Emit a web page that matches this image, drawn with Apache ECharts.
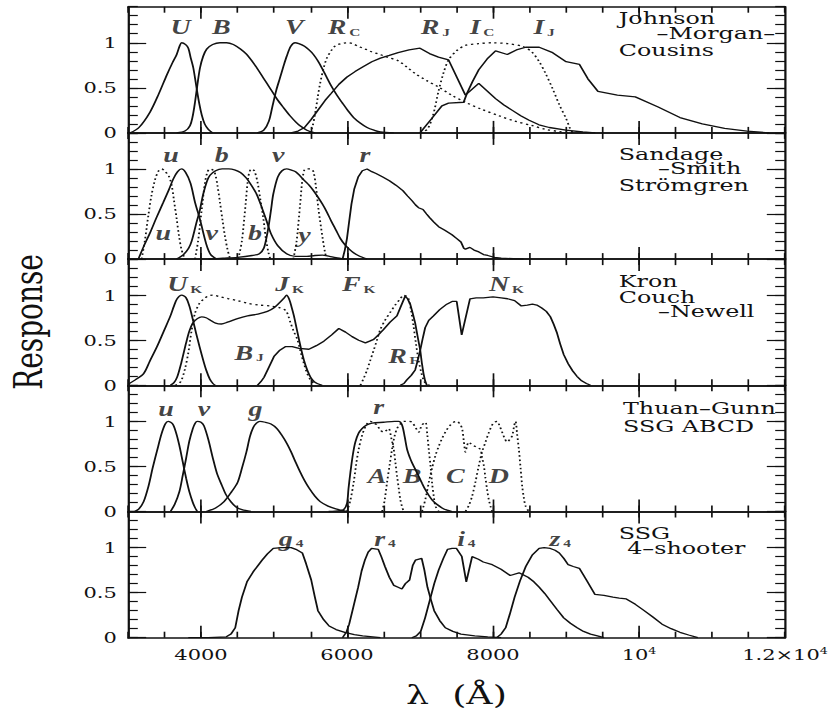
<!DOCTYPE html>
<html>
<head>
<meta charset="utf-8">
<script src="https://cdn.jsdelivr.net/npm/echarts@6.0.0/dist/echarts.min.js"></script>
<style>
html,body{margin:0;padding:0;background:#fff;overflow:hidden}
/* 原图是横向拉伸的扫描件, 整体横向放大 1.4 倍 */
#main{width:600px;height:714px;transform:scaleX(1.4);transform-origin:0 0}
</style>
</head>
<body>
<div id="main"></div>
<script>
//坐标轴刻度与标签
var xMajorTicks = [4000, 6000, 8000, 10000];
var xLabelValues = [4000, 6000, 8000, 10000, 12000];
var xLabelText = ['4000', '6000', '8000', '10^4', '1.2×10^4'];
var yMajorTicks = [0, 0.5, 1];

//Johnson-Morgan-Cousins
var jU = [[3030,0],[3150,0.06],[3301,0.23],[3420,0.43],[3530,0.64],[3610,0.78],[3667,0.87],[3710,0.97],[3735,1.0],[3790,0.98],[3826,0.94],[3860,0.83],[3895,0.72],[3941,0.49],[3975,0.33],[4010,0.2],[4050,0.1],[4100,0.04],[4160,0]];
var jB = [[3667,0],[3780,0.02],[3849,0.08],[3885,0.18],[3918,0.34],[3950,0.53],[3986,0.72],[4030,0.85],[4078,0.93],[4160,0.98],[4260,1.0],[4350,1.0],[4443,0.98],[4540,0.93],[4626,0.87],[4740,0.75],[4854,0.61],[4950,0.49],[5037,0.38],[5130,0.28],[5219,0.19],[5300,0.12],[5356,0.08],[5450,0.03],[5560,0]];
var jV = [[4770,0],[4860,0.03],[4930,0.13],[4980,0.3],[5030,0.47],[5082,0.61],[5130,0.74],[5174,0.85],[5230,0.96],[5288,1.0],[5340,0.99],[5418,0.96],[5480,0.92],[5540,0.87],[5600,0.8],[5663,0.71],[5720,0.62],[5785,0.52],[5860,0.42],[5938,0.33],[6010,0.25],[6091,0.17],[6180,0.11],[6275,0.06],[6370,0.03],[6458,0.01],[6640,0]];
var jRc = [[5479,0],[5520,0.05],[5560,0.2],[5600,0.4],[5632,0.55],[5680,0.72],[5724,0.83],[5790,0.92],[5847,0.97],[5920,0.99],[5999,1.0],[6080,0.99],[6153,0.96],[6250,0.93],[6336,0.9],[6450,0.87],[6550,0.84],[6700,0.8],[6820,0.73],[6931,0.66],[7090,0.58],[7253,0.51],[7430,0.42],[7621,0.34],[7850,0.26],[8081,0.19],[8300,0.13],[8541,0.08],[8720,0.04],[8909,0.015],[9093,0]];
var jRj = [[5234,0],[5330,0.02],[5418,0.06],[5510,0.15],[5600,0.25],[5700,0.36],[5785,0.44],[5890,0.54],[6000,0.62],[6110,0.68],[6214,0.73],[6340,0.79],[6458,0.83],[6580,0.86],[6700,0.89],[6850,0.92],[7000,0.94],[7130,0.88],[7253,0.84],[7391,0.81],[7621,0.42],[7805,0.55],[8035,0.38],[8150,0.31],[8265,0.25],[8380,0.19],[8495,0.14],[8630,0.09],[8771,0.06],[9000,0.03],[9231,0.01],[9400,0]];
var jIc = [[7000,0],[7100,0.04],[7180,0.2],[7253,0.46],[7320,0.66],[7391,0.81],[7500,0.91],[7621,0.97],[7800,0.99],[7989,1.0],[8200,0.99],[8403,0.96],[8530,0.9],[8633,0.79],[8720,0.66],[8817,0.49],[8910,0.31],[9001,0.16],[9050,0.06],[9093,0]];
var jIj = [[7000,0],[7161,0.16],[7300,0.3],[7391,0.33],[7598,0.34],[7644,0.44],[7720,0.57],[7805,0.7],[7920,0.82],[8035,0.91],[8196,0.87],[8320,0.92],[8449,0.95],[8633,0.95],[8817,0.89],[9001,0.79],[9185,0.76],[9300,0.6],[9438,0.46],[9704,0.42],[9949,0.4],[10255,0.29],[10561,0.17],[10867,0.1],[11173,0.05],[11480,0.02],[11785,0]];

//Sandage-Smith (实线) / Strömgren (虚线)
var sU = [[3142,0],[3220,0.15],[3301,0.29],[3390,0.46],[3484,0.63],[3560,0.77],[3621,0.89],[3680,0.97],[3735,1.0],[3790,0.96],[3857,0.84],[3918,0.63],[3986,0.44],[4071,0.17],[4133,0.05],[4215,0]];
var sB = [[3666,0],[3760,0.05],[3830,0.12],[3872,0.2],[3930,0.38],[3986,0.55],[4030,0.72],[4080,0.86],[4123,0.93],[4200,0.98],[4290,1.0],[4380,1.0],[4460,0.99],[4540,0.96],[4620,0.9],[4690,0.82],[4762,0.72],[4830,0.58],[4900,0.42],[4960,0.28],[5051,0.15],[5173,0.06],[5296,0.03],[5450,0.03],[5560,0.04],[5663,0.045],[5760,0.03],[5847,0.015],[5969,0]];
var sV = [[4100,0],[4300,0.01],[4500,0.02],[4700,0.04],[4800,0.06],[4860,0.12],[4900,0.25],[4929,0.38],[4960,0.55],[4990,0.72],[5051,0.91],[5110,0.98],[5173,1.0],[5230,0.99],[5296,0.97],[5360,0.92],[5418,0.87],[5480,0.82],[5540,0.76],[5600,0.69],[5663,0.61],[5725,0.52],[5785,0.42],[5850,0.32],[5908,0.23],[5970,0.16],[6030,0.11],[6090,0.07],[6153,0.04],[6275,0]];
var sR = [[5939,0],[5970,0.1],[6000,0.23],[6030,0.42],[6061,0.61],[6100,0.78],[6153,0.91],[6210,0.98],[6275,1.0],[6340,0.97],[6398,0.95],[6490,0.91],[6581,0.87],[6670,0.82],[6765,0.76],[6830,0.7],[6888,0.65],[6940,0.6],[6980,0.57],[7041,0.55],[7090,0.5],[7132,0.46],[7190,0.41],[7255,0.36],[7340,0.32],[7438,0.27],[7500,0.23],[7561,0.19],[7600,0.12],[7622,0.11],[7683,0.13],[7740,0.1],[7806,0.08],[7870,0.05],[7928,0.04],[8020,0.02],[8112,0.01],[8418,0]];
var stU = [[3187,0],[3230,0.2],[3278,0.48],[3320,0.7],[3370,0.88],[3420,0.98],[3461,1.0],[3510,0.97],[3560,0.92],[3598,0.82],[3630,0.65],[3666,0.45],[3700,0.25],[3735,0.1],[3780,0]];
var stV = [[3918,0],[3960,0.2],[4010,0.55],[4055,0.85],[4090,0.97],[4123,1.0],[4160,0.99],[4192,0.95],[4225,0.82],[4260,0.63],[4295,0.43],[4329,0.25],[4365,0.1],[4400,0]];
var stB = [[4510,0],[4560,0.2],[4610,0.6],[4650,0.92],[4690,1.0],[4730,0.98],[4775,0.85],[4815,0.65],[4854,0.45],[4890,0.22],[4925,0.07],[4950,0]];
var stY = [[5265,0],[5310,0.2],[5357,0.6],[5390,0.88],[5430,1.0],[5500,1.0],[5540,0.97],[5575,0.8],[5610,0.55],[5663,0.25],[5700,0.07],[5724,0]];

//Kron / Couch-Newell
var kU = [[3000,0.01],[3100,0.06],[3214,0.13],[3300,0.27],[3398,0.43],[3490,0.6],[3581,0.77],[3630,0.88],[3673,0.96],[3735,1.0],[3796,0.97],[3840,0.88],[3888,0.73],[3935,0.57],[3980,0.43],[4030,0.28],[4071,0.17],[4120,0.07],[4163,0.02],[4194,0]];
var kJ = [[3581,0],[3630,0.03],[3673,0.09],[3730,0.25],[3796,0.47],[3840,0.6],[3888,0.69],[3950,0.74],[4010,0.76],[4070,0.75],[4133,0.72],[4200,0.69],[4280,0.68],[4363,0.7],[4500,0.74],[4637,0.77],[4780,0.79],[4910,0.82],[5000,0.86],[5080,0.92],[5140,0.97],[5173,1.0],[5210,0.95],[5240,0.87],[5273,0.77],[5310,0.63],[5342,0.51],[5375,0.39],[5410,0.28],[5455,0.17],[5501,0.09],[5550,0.04],[5592,0.02],[5660,0]];
var kBj = [[3643,0],[3700,0.02],[3735,0.06],[3780,0.18],[3826,0.36],[3870,0.6],[3918,0.8],[3980,0.91],[4041,0.96],[4100,0.99],[4163,1.0],[4270,0.98],[4378,0.96],[4500,0.94],[4637,0.91],[4800,0.89],[4955,0.88],[5080,0.86],[5160,0.83],[5200,0.76],[5228,0.69],[5270,0.6],[5319,0.51],[5365,0.37],[5410,0.24],[5455,0.13],[5501,0.06],[5570,0]];
var kF = [[4773,0],[4820,0.04],[4864,0.09],[4930,0.2],[5000,0.32],[5080,0.39],[5160,0.43],[5250,0.43],[5342,0.41],[5478,0.4],[5580,0.44],[5683,0.49],[5790,0.56],[5888,0.63],[5980,0.59],[6070,0.54],[6160,0.5],[6252,0.47],[6310,0.49],[6366,0.51],[6430,0.56],[6502,0.62],[6590,0.7],[6684,0.77],[6740,0.88],[6798,0.99],[6830,0.96],[6866,0.9],[6900,0.8],[6934,0.69],[6970,0.53],[7003,0.39],[7025,0.25],[7048,0.13],[7070,0.05],[7094,0]];
var kRf = [[6184,0],[6230,0.08],[6275,0.17],[6320,0.28],[6366,0.39],[6410,0.5],[6457,0.62],[6520,0.72],[6593,0.81],[6660,0.89],[6730,0.96],[6775,1.0],[6810,0.99],[6843,0.96],[6880,0.82],[6911,0.66],[6945,0.46],[6980,0.28],[7015,0.15],[7048,0.06],[7090,0.01],[7139,0]];
var kN = [[6730,0],[6780,0.02],[6820,0.06],[6880,0.11],[6934,0.17],[6970,0.28],[7003,0.39],[7040,0.53],[7071,0.64],[7120,0.72],[7185,0.77],[7270,0.84],[7367,0.9],[7440,0.93],[7503,0.93],[7571,0.56],[7685,0.96],[7770,0.97],[7867,0.97],[8000,0.98],[8112,0.97],[8200,0.96],[8296,0.94],[8388,0.88],[8470,0.89],[8540,0.9],[8600,0.89],[8663,0.86],[8730,0.82],[8786,0.76],[8830,0.68],[8877,0.58],[8920,0.46],[8969,0.34],[9030,0.24],[9091,0.16],[9150,0.1],[9214,0.05],[9280,0.02],[9336,0]];

//Thuan-Gunn (实线) / SSG ABCD (虚线)
var tU = [[3092,0],[3150,0.03],[3214,0.11],[3280,0.28],[3337,0.48],[3400,0.68],[3459,0.86],[3510,0.97],[3551,1.0],[3612,0.97],[3660,0.87],[3704,0.73],[3750,0.55],[3796,0.37],[3840,0.22],[3888,0.1],[3920,0.04],[3949,0]];
var tV = [[3582,0],[3640,0.08],[3704,0.22],[3750,0.4],[3796,0.59],[3840,0.78],[3888,0.92],[3920,0.98],[3949,1.0],[4000,0.99],[4041,0.95],[4100,0.8],[4163,0.59],[4220,0.42],[4286,0.29],[4340,0.19],[4408,0.11],[4480,0.05],[4561,0.02],[4684,0]];
var tG = [[4071,0],[4200,0.04],[4316,0.11],[4420,0.22],[4500,0.32],[4561,0.48],[4622,0.66],[4670,0.83],[4714,0.93],[4760,0.98],[4806,1.0],[4880,0.99],[4959,0.97],[5040,0.92],[5112,0.84],[5180,0.75],[5235,0.66],[5300,0.54],[5357,0.44],[5420,0.34],[5480,0.26],[5560,0.17],[5633,0.11],[5740,0.06],[5847,0.03],[6000,0]];
var tR = [[5749,0],[5900,0.01],[5954,0.02],[6000,0.09],[6020,0.25],[6046,0.43],[6080,0.63],[6114,0.77],[6160,0.87],[6206,0.92],[6270,0.96],[6343,0.98],[6500,0.99],[6650,1.0],[6708,1.0],[6754,0.96],[6790,0.83],[6823,0.69],[6860,0.6],[6891,0.54],[6940,0.46],[6983,0.39],[7030,0.31],[7074,0.24],[7120,0.18],[7165,0.13],[7230,0.08],[7302,0.04],[7370,0.015],[7440,0]];
var tA = [[6000,0],[6045,0.12],[6091,0.32],[6125,0.52],[6160,0.69],[6205,0.84],[6251,0.94],[6290,0.99],[6320,1.0],[6370,0.98],[6411,0.96],[6460,0.9],[6503,0.88],[6540,0.9],[6571,0.92],[6605,0.82],[6640,0.69],[6665,0.53],[6686,0.39],[6710,0.25],[6731,0.13],[6755,0.05],[6777,0]];
var tB = [[6480,0],[6515,0.12],[6548,0.32],[6585,0.52],[6617,0.69],[6650,0.83],[6686,0.92],[6730,0.97],[6777,1.0],[6840,1.0],[6891,0.99],[6940,0.93],[6983,0.88],[7005,0.92],[7028,0.96],[7074,0.99],[7100,0.85],[7120,0.69],[7145,0.5],[7165,0.32],[7190,0.16],[7211,0.06],[7257,0]];
var tC = [[7028,0],[7075,0.14],[7120,0.32],[7165,0.48],[7211,0.62],[7260,0.73],[7302,0.81],[7360,0.9],[7417,0.96],[7460,0.99],[7508,1.0],[7545,0.97],[7577,0.92],[7600,0.78],[7623,0.66],[7645,0.73],[7668,0.77],[7700,0.75],[7737,0.73],[7780,0.71],[7828,0.69],[7850,0.6],[7874,0.51],[7897,0.37],[7920,0.24],[7943,0.13],[7965,0.06],[7988,0]];
var tD = [[7623,0],[7670,0.07],[7714,0.17],[7760,0.33],[7806,0.51],[7850,0.66],[7897,0.77],[7940,0.87],[7988,0.96],[8020,0.99],[8057,1.0],[8090,0.95],[8125,0.88],[8160,0.81],[8194,0.77],[8230,0.8],[8263,0.84],[8290,0.95],[8309,1.0],[8330,0.86],[8354,0.69],[8378,0.48],[8400,0.28],[8423,0.15],[8446,0.06],[8491,0]];

//SSG 4-shooter
var g4 = [[3826,0],[4100,0],[4347,0.01],[4410,0.04],[4469,0.11],[4515,0.3],[4561,0.45],[4630,0.62],[4714,0.73],[4780,0.8],[4837,0.86],[4910,0.93],[4990,0.99],[5100,1.0],[5235,1.0],[5300,0.98],[5388,0.94],[5440,0.82],[5510,0.64],[5560,0.45],[5602,0.3],[5680,0.2],[5755,0.13],[5850,0.09],[5969,0.06],[6100,0.035],[6214,0.02],[6458,0]];
var r4 = [[5938,0],[5990,0.06],[6030,0.15],[6090,0.35],[6153,0.56],[6200,0.74],[6245,0.86],[6290,0.95],[6337,0.99],[6428,0.98],[6470,0.9],[6520,0.79],[6580,0.67],[6642,0.58],[6700,0.56],[6752,0.54],[6800,0.6],[6857,0.64],[6900,0.8],[6937,0.86],[7023,0.88],[7060,0.75],[7102,0.56],[7150,0.42],[7194,0.3],[7270,0.19],[7347,0.11],[7450,0.07],[7561,0.04],[7750,0.02],[7928,0.01],[8112,0]];
var i4 = [[6888,0],[6950,0.02],[7010,0.07],[7070,0.22],[7133,0.41],[7195,0.6],[7255,0.75],[7320,0.88],[7377,0.98],[7440,0.99],[7500,0.99],[7573,0.9],[7634,0.62],[7714,0.9],[7800,0.87],[7867,0.84],[7990,0.81],[8110,0.76],[8235,0.69],[8357,0.72],[8480,0.67],[8560,0.62],[8632,0.56],[8710,0.49],[8785,0.41],[8880,0.31],[8969,0.22],[9060,0.16],[9153,0.11],[9240,0.07],[9336,0.04],[9430,0.02],[9520,0]];
var z4 = [[8051,0],[8110,0.04],[8173,0.11],[8230,0.26],[8296,0.45],[8370,0.63],[8449,0.79],[8540,0.92],[8632,0.99],[8700,1.0],[8785,0.99],[8850,0.97],[8908,0.94],[8970,0.88],[9030,0.81],[9100,0.79],[9183,0.77],[9280,0.64],[9397,0.48],[9520,0.47],[9643,0.45],[9730,0.44],[9826,0.43],[9950,0.37],[10071,0.3],[10190,0.23],[10316,0.15],[10440,0.1],[10561,0.06],[10680,0.03],[10806,0]];

//滤光片标注 [文字, 波长, 响应]
var labels1 = [['U',3722,1.17],['B',4280,1.17],['V',5277,1.17],['R_C',5960,1.17],['R_J',7210,1.17],['I_C',7850,1.17],['I_J',8700,1.17]];
var labels2 = [['u',3590,1.16],['b',4284,1.16],['v',5059,1.16],['r',6245,1.16],['u',3484,0.29],['v',4146,0.29],['b',4740,0.29],['y',5418,0.27]];
var labels3 = [['U_K',3777,1.12],['J_K',5214,1.12],['F_K',6161,1.12],['N_K',8185,1.12],['B_J',4659,0.36],['R_F',6775,0.33]];
var labels4 = [['u',3520,1.14],['v',4041,1.14],['g',4745,1.14],['r',6434,1.16],['A',6411,0.39],['B',6891,0.39],['C',7485,0.39],['D',8079,0.39]];
var labels5 = [['g_4',5234,1.1],['r_4',6520,1.1],['i_4',7634,1.1],['z_4',8920,1.1]];

//面板右上角标题 [文字, x, y]
var titles1 = [['Johnson',442,18],['–Morgan–',469,33],['Cousins',442,50]];
var titles2 = [['Sandage',442,154],['–Smith',470,168],['Strömgren',442,185]];
var titles3 = [['Kron',442,281],['Couch',442,297],['–Newell',470,311]];
var titles4 = [['Thuan–Gunn',445,408],['SSG ABCD',445,426]];
var titles5 = [['SSG',442,533],['4–shooter',448,548]];

var panels = [
    {curves: [[jU,0,1],[jB,0,1],[jV,0,1],[jRc,1,1],[jRj,0,0],[jIc,1,1],[jIj,0,0]], labels: labels1, titles: titles1},
    {curves: [[sU,0,1],[sB,0,1],[sV,0,1],[sR,0,0],[stU,1,1],[stV,1,1],[stB,1,1],[stY,1,1]], labels: labels2, titles: titles2},
    {curves: [[kU,0,1],[kJ,0,1],[kBj,1,1],[kF,0,0],[kRf,1,1],[kN,0,0]], labels: labels3, titles: titles3},
    {curves: [[tU,0,1],[tV,0,1],[tG,0,1],[tR,0,1],[tA,1,1],[tB,1,1],[tC,1,1],[tD,1,1]], labels: labels4, titles: titles4},
    {curves: [[g4,0,0],[r4,0,0],[i4,0,0],[z4,0,0]], labels: labels5, titles: titles5}
];

var ink = '#111';
var serif = '"DejaVu Serif", "Liberation Serif", serif';
var S = 1.4;                 // 横向拉伸
var GL = 128 / S, GW = (785 - 128) / S, GT = 6.7, GH = 126.2;

var myChart = echarts.init(document.getElementById('main'), null, {renderer: 'svg'});

var grids = [], xAxes = [], yAxes = [], series = [], graphics = [];

panels.forEach(function (p, i) {
    var last = i === panels.length - 1;
    grids.push({left: GL, width: GW, top: GT + i * GH, height: GH});
    //x轴: 底部和顶部, 每边一条短刻度一条长刻度
    ['bottom', 'top'].forEach(function (pos) {
        xAxes.push({
            gridIndex: i, type: 'value', position: pos, min: 3000, max: 12000, interval: 500,
            axisLine: {show: true, onZero: false, lineStyle: {color: ink, width: 1.6}},
            axisTick: {inside: true, length: 6, lineStyle: {color: ink, width: 1.2}},
            axisLabel: {show: false}, splitLine: {show: false}
        });
        var lab = {show: false};
        if (last && pos === 'bottom') {
            lab = {
                show: true, customValues: xLabelValues, margin: 9,
                formatter: function (v) {
                    var t = xLabelText[xLabelValues.indexOf(v)];
                    if (!t) return '';
                    var s = t.split('^');
                    return '{n|' + s[0] + '}' + (s[1] ? '{p|' + s[1] + '}' : '');
                },
                rich: {
                    n: {fontFamily: serif, fontSize: 15, color: ink},
                    p: {fontFamily: serif, fontSize: 9, color: ink, verticalAlign: 'top'}
                }
            };
        }
        xAxes.push({
            gridIndex: i, type: 'value', position: pos, min: 3000, max: 12000,
            axisLine: {show: false, onZero: false},
            axisTick: {inside: true, length: 12, customValues: xMajorTicks, lineStyle: {color: ink, width: 1.2}},
            axisLabel: lab, splitLine: {show: false}
        });
    });
    //y轴: 左右各两条
    ['left', 'right'].forEach(function (pos) {
        yAxes.push({
            gridIndex: i, type: 'value', position: pos, min: 0, max: 1.4,
            axisLine: {show: true, onZero: false, lineStyle: {color: ink, width: 1.6}},
            axisTick: {inside: true, length: 13, customValues: yMajorTicks, lineStyle: {color: ink, width: 1.2}},
            axisLabel: pos === 'left'
                ? {show: true, customValues: yMajorTicks, margin: 8, fontFamily: serif, fontSize: 15, color: ink}
                : {show: false},
            splitLine: {show: false}
        });
        yAxes.push({
            gridIndex: i, type: 'value', position: pos, min: 0, max: 1.4, interval: 0.1,
            axisLine: {show: false, onZero: false},
            axisTick: {inside: true, length: 7, lineStyle: {color: ink, width: 1.2}},
            axisLabel: {show: false}, splitLine: {show: false}
        });
    });
    p.curves.forEach(function (c) {
        series.push({
            type: 'line', xAxisIndex: 4 * i, yAxisIndex: 4 * i, data: c[0],
            showSymbol: false, silent: true, clip: true,
            smooth: c[2] ? 0.3 : false,
            lineStyle: {color: ink, width: 1.3, type: c[1] ? [1.6, 2.6] : 'solid'}
        });
    });
    series.push({
        type: 'scatter', xAxisIndex: 4 * i, yAxisIndex: 4 * i, symbolSize: 1, silent: true,
        itemStyle: {color: 'rgba(0,0,0,0)'},
        data: p.labels.map(function (l) { return [l[1], l[2], l[0]]; }),
        label: {
            show: true, position: 'inside',
            formatter: function (d) {
                var t = d.data[2].split('_');
                return '{m|' + t[0] + '}' + (t[1] ? '{s|' + t[1] + '}' : '');
            },
            rich: {
                m: {fontFamily: '"Liberation Serif", serif', fontStyle: 'italic', fontWeight: 'bold', fontSize: 20, color: ink},
                s: {fontFamily: '"Liberation Serif", serif', fontWeight: 'bold', fontSize: 11, color: ink, verticalAlign: 'bottom', padding: [0, 0, 0, 2]}
            }
        }
    });
    p.titles.forEach(function (t) {
        graphics.push({
            type: 'text', x: t[1], y: t[2], silent: true,
            style: {text: t[0], font: '17px ' + serif, fill: ink, textAlign: 'left', textVerticalAlign: 'middle', align: 'left', verticalAlign: 'middle'}
        });
    });
});

//坐标轴标题
graphics.push({
    type: 'text', x: 20, y: 322, rotation: Math.PI / 2, silent: true,
    style: {text: 'Response', font: '28px ' + serif, fill: ink, textAlign: 'center', textVerticalAlign: 'middle', align: 'center', verticalAlign: 'middle'}
});
graphics.push({
    type: 'text', x: 326, y: 695, silent: true,
    style: {text: 'λ  (Å)', font: '26px ' + serif, fill: ink, textAlign: 'center', textVerticalAlign: 'middle', align: 'center', verticalAlign: 'middle'}
});

myChart.setOption({
    animation: false,
    backgroundColor: '#fff',
    grid: grids,
    xAxis: xAxes,
    yAxis: yAxes,
    series: series,
    graphic: graphics
});
</script>
</body>
</html>
